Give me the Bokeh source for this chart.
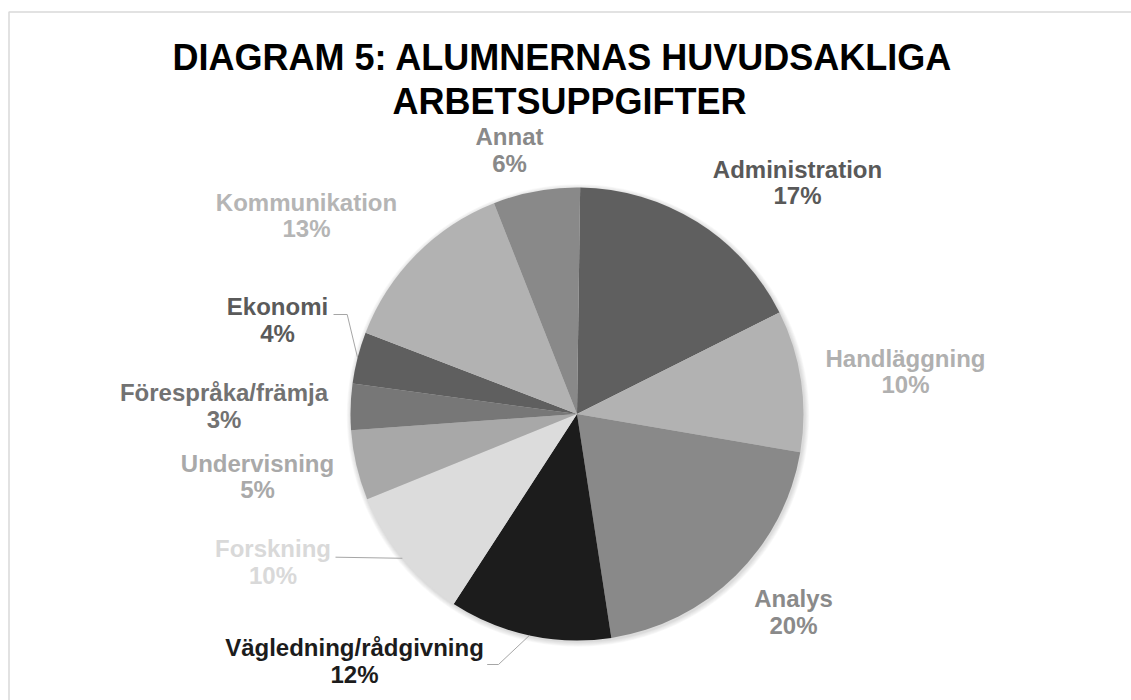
import math
from bokeh.plotting import figure
from bokeh.models import Range1d
from bokeh.core.properties import value
from bokeh.embed import file_html
from bokeh.resources import INLINE

# ---------------- data ----------------
categories = ["Administration", "Handläggning", "Analys", "Vägledning/rådgivning",
              "Forskning", "Undervisning", "Förespråka/främja", "Ekonomi",
              "Kommunikation", "Annat"]
values = [17.4, 10.1, 19.9, 11.6, 9.7, 5.0, 3.3, 3.7, 13.2, 6.2]
title_lines = ["DIAGRAM 5: ALUMNERNAS HUVUDSAKLIGA", "ARBETSUPPGIFTER"]

# ---------------- styles / layout ----------------
slice_colors = ["#5f5f5f", "#b2b2b2", "#898989", "#1c1c1c", "#dcdcdc",
                "#a8a8a8", "#777777", "#5f5f5f", "#b2b2b2", "#898989"]
label_colors = ["#595959", "#b0b0b0", "#8a8a8a", "#1c1c1c", "#d9d9d9",
                "#a9a9a9", "#727272", "#5a5a5a", "#b5b5b5", "#898989"]
# label block anchors, pixel offsets from pie centre
label_offsets = [(220.5, -221.6), (328.5, -32.7), (216.5, 208.0), (-222.5, 256.8),
                 (-304.0, 158.0), (-319.5, 72.5), (-353.0, 2.0), (-299.5, -84.2),
                 (-270.5, -188.5), (-67.5, -254.0)]
# leader lines: category index -> list of extra points (page px) after the rim point
leaders = {7: [(346.7, 314.0), (333.0, 314.0)],
           4: [(335.0, 556.7)],
           3: [(498.0, 664.0), (486.7, 664.0)]}

W, H = 1131, 700
MARGIN = 0
TEXT_DY = -10.0   # baseline correction for rendered text
PCX, PCY, R = 576.5, 413.5, 226.5   # pie centre in page px
START_DEG = 0.8
FONT = value("Liberation Sans")


def px(x):
    return x - MARGIN


def py(y):
    return (H + MARGIN) - y


def ty(y):
    return py(y + TEXT_DY)


p = figure(width=W, height=H, output_backend="svg", toolbar_location=None,
           x_range=Range1d(0, W), y_range=Range1d(0, H),
           x_axis_location=None, y_axis_location=None, min_border=0)
p.grid.visible = False
p.outline_line_color = None
p.background_fill_color = "white"
p.border_fill_color = "white"

# chart area border (left and top edges visible)
p.line(x=[px(8.5), px(8.5), px(1300)], y=[py(900), py(11.5), py(11.5)],
       line_color="#d9d9d9", line_width=1.5)

# title
p.text(x=[px(562), px(569)], y=[ty(66.7), ty(110.7)], text=title_lines,
       text_align="center", text_baseline="alphabetic", text_font=FONT,
       text_font_style="bold", text_font_size="36px", text_color="#000000")

cx, cy = px(PCX), py(PCY)

# soft shadow
for k in range(1, 7):
    p.circle(x=[cx + 1.0], y=[cy - 1.5], radius=R + k * 0.8,
             fill_color="black", fill_alpha=0.025, line_color=None)

total = sum(values)
starts, ends, mids = [], [], []
acc = 0.0
for v in values:
    t0 = START_DEG + acc / total * 360.0
    acc += v
    t1 = START_DEG + acc / total * 360.0
    starts.append(math.radians(90.0 - t0))
    ends.append(math.radians(90.0 - t1))
    mids.append((t0 + t1) / 2.0)

p.wedge(x=[cx] * len(values), y=[cy] * len(values), radius=R,
        start_angle=starts, end_angle=ends, direction="clock",
        fill_color=slice_colors, line_color=None)

# leader lines
for i, pts in leaders.items():
    th = math.radians(mids[i])
    rx = PCX + R * math.sin(th)
    ry = PCY - R * math.cos(th)
    xs = [px(rx)] + [px(a) for a, b in pts]
    ys = [py(ry)] + [py(b) for a, b in pts]
    p.line(x=xs, y=ys, line_color="#a6a6a6", line_width=1)

# labels
pct_labels = [f"{round(v / total * 100)}%" for v in values]
name_x, name_y, pct_y = [], [], []
for dx, dy in label_offsets:
    ax, ay = PCX + dx, PCY + dy
    name_x.append(px(ax))
    name_y.append(ty(ay - 13.3))
    pct_y.append(ty(ay + 13.3))

p.text(x=name_x, y=name_y, text=categories, text_align="center",
       text_baseline="alphabetic", text_font=FONT, text_font_style="bold",
       text_font_size="24px", text_color=label_colors)
p.text(x=name_x, y=pct_y, text=pct_labels, text_align="center",
       text_baseline="alphabetic", text_font=FONT, text_font_style="bold",
       text_font_size="24px", text_color=label_colors)

open("out.html", "w").write(file_html(p, INLINE))
